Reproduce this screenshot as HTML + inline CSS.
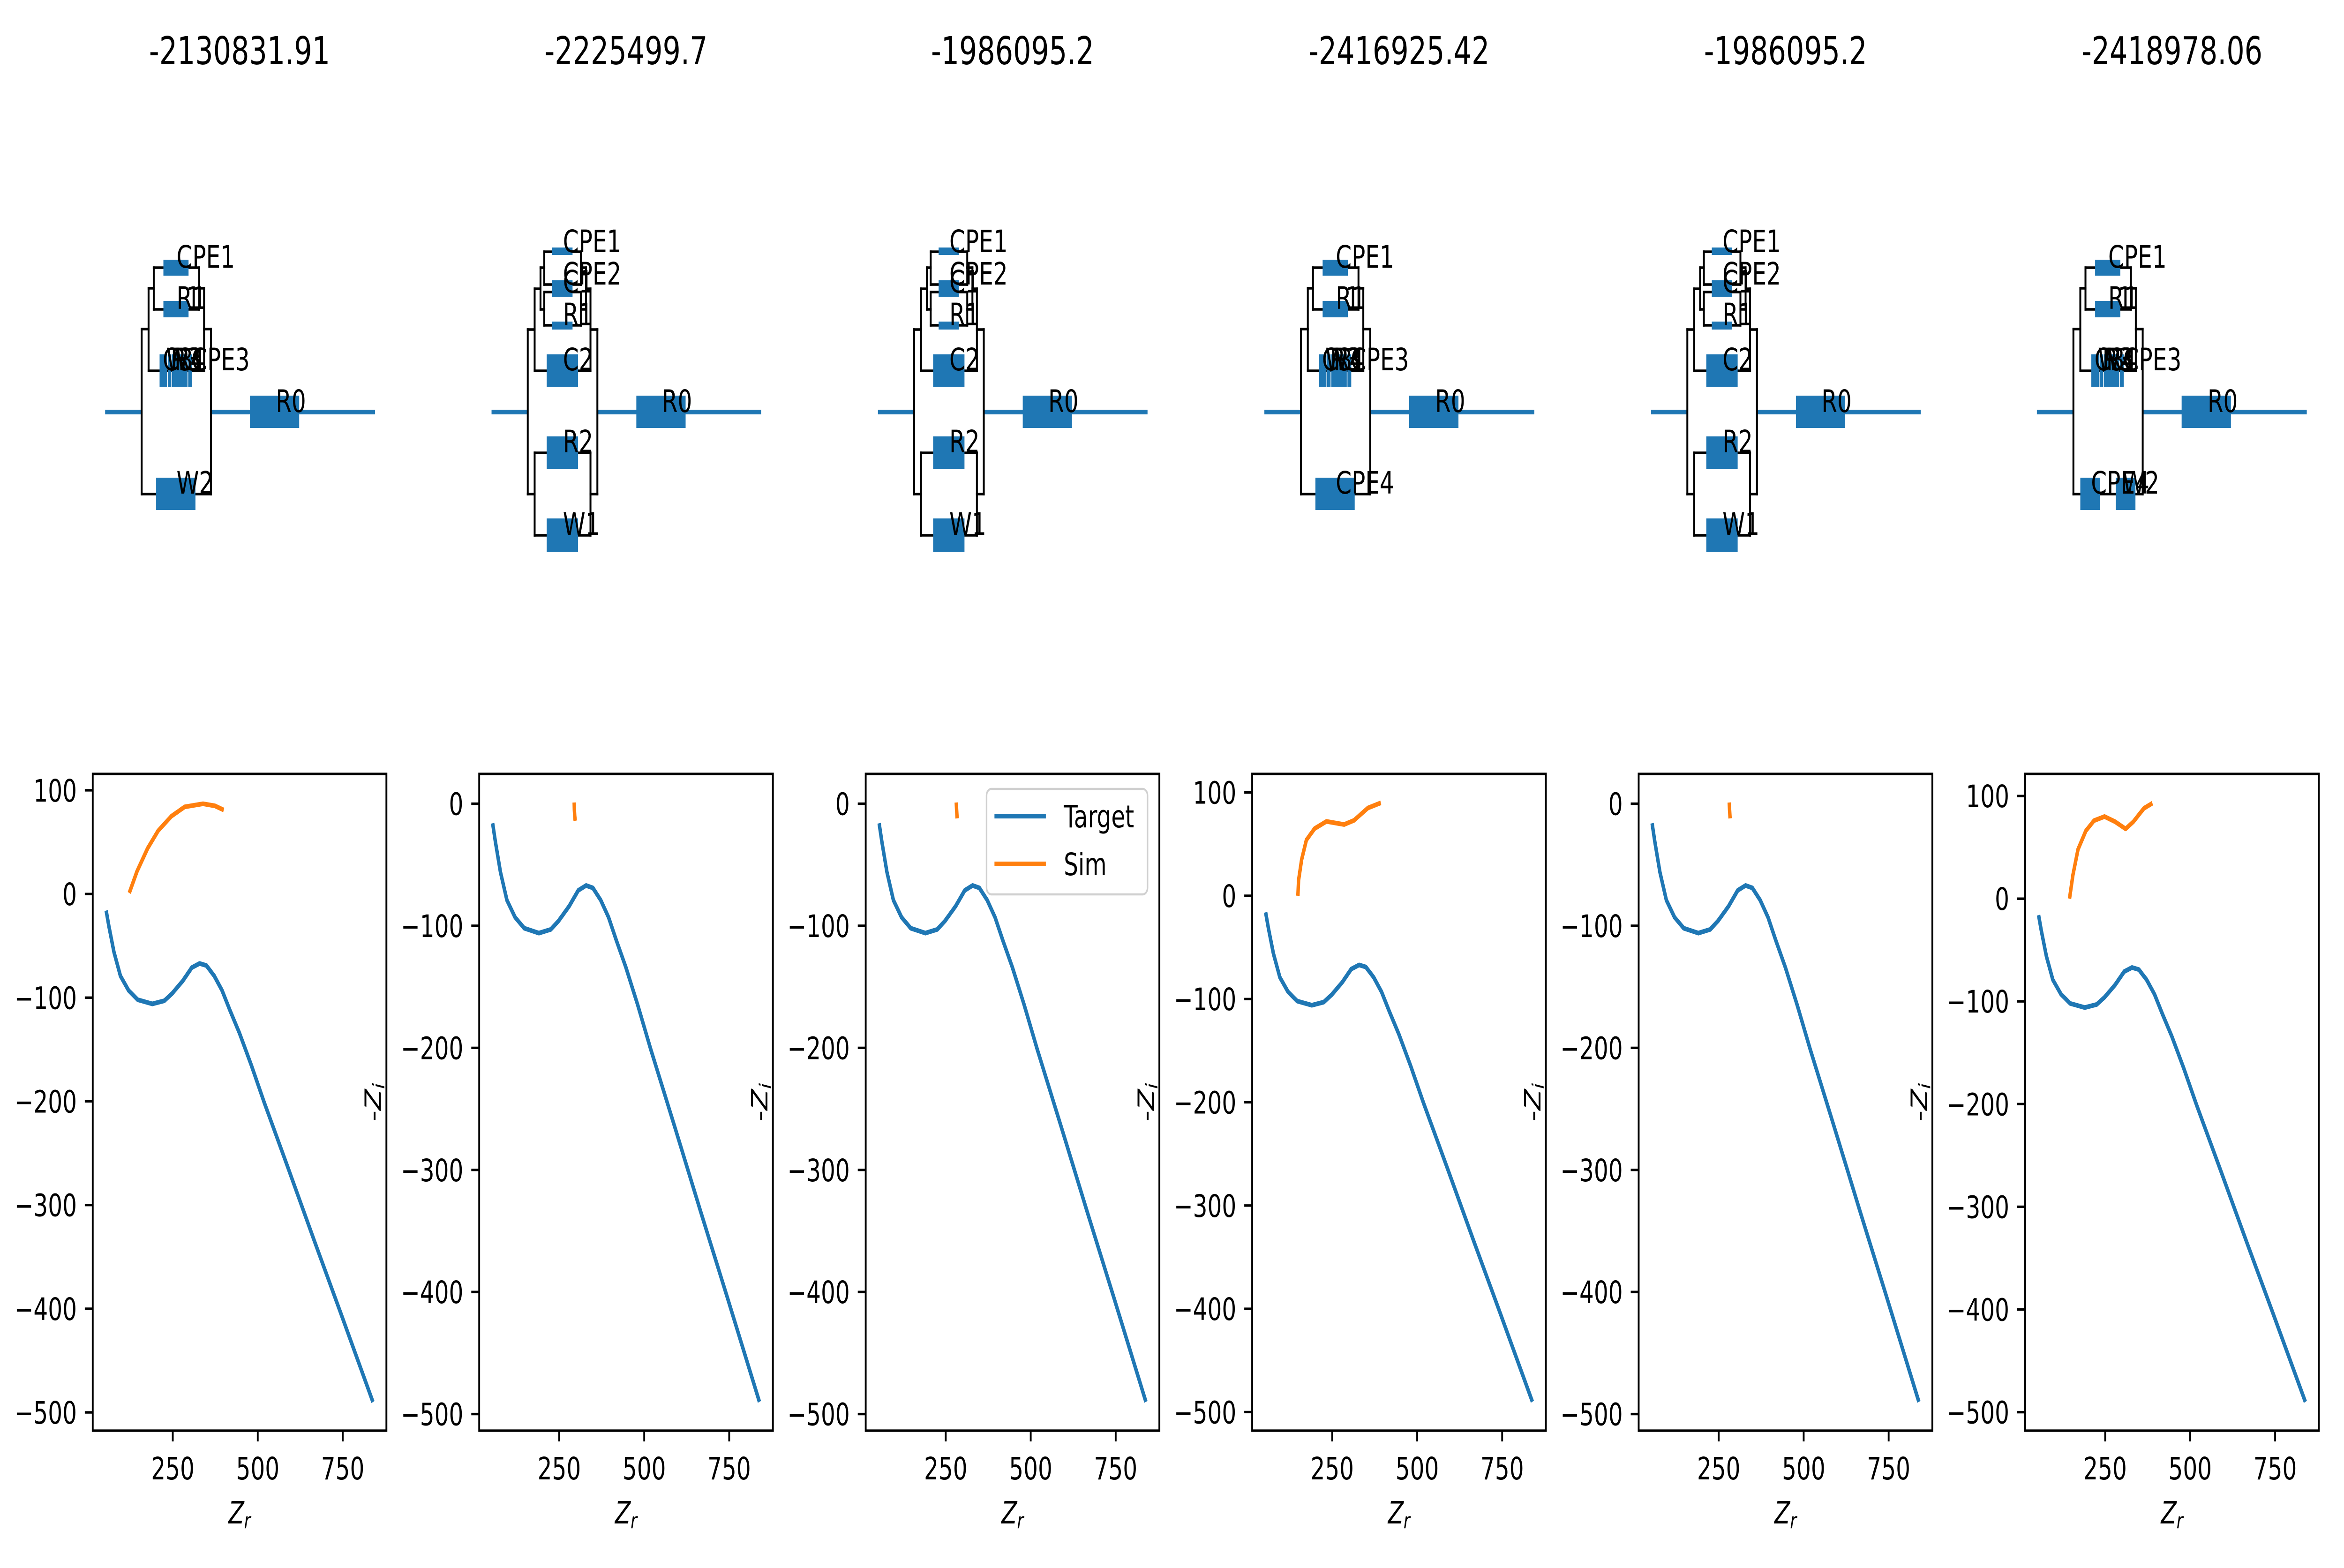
<!DOCTYPE html>
<html><head><meta charset="utf-8"><style>
html,body{margin:0;padding:0;background:#fff;width:100%;height:100%;overflow:hidden;}
svg{display:block;width:100vw;height:100vh;font-family:"DejaVu Sans","Liberation Sans",sans-serif;}
</style></head>
<body>
<svg id="fig" xmlns="http://www.w3.org/2000/svg" viewBox="0 0 6800 3345" preserveAspectRatio="none">
<rect x="0" y="0" width="6800" height="3345" fill="#fff"/>
</svg>
<script>
// ---- chart data ----
const targetZr = [54,62,77,96,120,147,190,225,248,279,306,329,349,372,395,418,446,481,519,589,667,744,839];
const targetZi = [-16,-31,-56,-79,-93,-102,-106,-103,-96,-84,-71,-67,-69,-79,-93,-112,-134,-165,-201,-264,-335,-404,-490];
const sim1Zr = [122,145,176,207,246,285,339,374,400];
const sim1Zi = [1,22,44,61,75,84,87,85,81];
const sim2Zr = [294,294.5,295.5,297];
const sim2Zi = [1,-5,-10,-14];
const sim3Zr = [281,282,283.5];
const sim3Zi = [1,-5,-12];
const sim4Zr = [149,151,160,174,198,233,285,314,355,393];
const sim4Zi = [0,15,35,54,65,72,69,73,85,90];
const sim5Zr = [281,282,283.5];
const sim5Zi = [1,-5,-12];
const sim6Zr = [145,155,170,193,217,248,279,310,333,364,389];
const sim6Zi = [0,23,48,66,76,80,75,68,75,88,93];
const panelTitles = ["-2130831.91","-2225499.7","-1986095.2","-2416925.42","-1986095.2","-2418978.06"];
const xTicks = [250,500,750];
const yTicksA = [100,0,-100,-200,-300,-400,-500];
const yTicksB = [0,-100,-200,-300,-400,-500];

const NS = "http://www.w3.org/2000/svg";
const svg = document.getElementById("fig");
const BLUE = "#1f77b4", ORANGE = "#ff7f0e";
const X0 = 14.5, X1 = 878.6;
const TOP = 1651, H = 1401, W = 852;

function mk(tag, attrs, parent){
  const el = document.createElementNS(NS, tag);
  for (const k in attrs) el.setAttribute(k, attrs[k]);
  (parent || svg).appendChild(el);
  return el;
}

const panels = [
  {zr: sim1Zr, zi: sim1Zi, yMax: 115.8, yMin: -517.6, ticks: yTicksA, ylabel: false},
  {zr: sim2Zr, zi: sim2Zi, yMax: 24.4, yMin: -513.6, ticks: yTicksB, ylabel: true},
  {zr: sim3Zr, zi: sim3Zi, yMax: 24.4, yMin: -513.6, ticks: yTicksB, ylabel: true},
  {zr: sim4Zr, zi: sim4Zi, yMax: 118, yMin: -518, ticks: yTicksA, ylabel: true},
  {zr: sim5Zr, zi: sim5Zi, yMax: 24.4, yMin: -513.6, ticks: yTicksB, ylabel: true},
  {zr: sim6Zr, zi: sim6Zi, yMax: 121.5, yMin: -518, ticks: yTicksA, ylabel: true}
];

panels.forEach((p, k) => {
  const left = 269 + 1121.2 * k;
  const sx = v => left + (v - X0) / (X1 - X0) * W;
  const sy = v => TOP + (p.yMax - v) / (p.yMax - p.yMin) * H;
  const g = mk("g", {});
  
  

  const t = mk("text", {x: left + W / 2, y: 137, "text-anchor": "middle", "font-size": 82, fill: "#000"});
  
  
  t.textContent = panelTitles[k];

  const cp = mk("clipPath", {id: "clip" + k}, g);
  mk("rect", {x: left, y: TOP, width: W, height: H}, cp);

  const tgt = mk("polyline", {points: targetZr.map((v, i) => sx(v) + "," + sy(targetZi[i])).join(" "),
    fill: "none", stroke: BLUE, "stroke-width": 10, "stroke-linejoin": "round", "clip-path": "url(#clip" + k + ")"}, g);
  
  

  const sim = mk("polyline", {points: p.zr.map((v, i) => sx(v) + "," + sy(p.zi[i])).join(" "),
    fill: "none", stroke: ORANGE, "stroke-width": 10, "stroke-linejoin": "round", "clip-path": "url(#clip" + k + ")"}, g);
  
  

  const frame = mk("rect", {x: left, y: TOP, width: W, height: H, fill: "none", stroke: "#000", "stroke-width": 5.3}, g);
  
  

  p.ticks.forEach(v => {
    const y = sy(v);
    const tk = mk("line", {x1: left - 23, x2: left, y1: y, y2: y, stroke: "#000", "stroke-width": 5.3}, g);
    
    
    const tl = mk("text", {x: left - 46, y: y + 24, "text-anchor": "end", "font-size": 66, fill: "#000"}, g);
    
    
    tl.textContent = (v < 0 ? "\u2212" + Math.abs(v) : String(v));
  });
  xTicks.forEach(v => {
    const x = sx(v);
    const tk = mk("line", {x1: x, x2: x, y1: TOP + H, y2: TOP + H + 23, stroke: "#000", "stroke-width": 5.3}, g);
    
    
    const tl = mk("text", {x: x, y: 3156, "text-anchor": "middle", "font-size": 66, fill: "#000"}, g);
    
    
    tl.textContent = String(v);
  });

  const xl = mk("text", {x: left + W / 2, y: 3250, "text-anchor": "middle", "font-size": 66, fill: "#000"}, g);
  
  
  const z1 = mk("tspan", {"font-style": "italic"}, xl); z1.textContent = "Z";
  const z2 = mk("tspan", {"font-style": "italic", "font-size": 46, dy: 10}, xl); z2.textContent = "r";

  if (p.ylabel) {
    const cx = left - 285, cy = TOP + H / 2;
    const yl = mk("text", {x: cx, y: cy, "text-anchor": "middle", "font-size": 66, fill: "#000",
      transform: "rotate(-90 " + cx + " " + cy + ")"}, g);
    
    
    const a = mk("tspan", {}, yl); a.textContent = "-";
    const b = mk("tspan", {"font-style": "italic"}, yl); b.textContent = "Z";
    const c = mk("tspan", {"font-style": "italic", "font-size": 46, dy: 10}, yl); c.textContent = "i";
  }

  if (k === 2) {
    const lg = mk("g", {});
    
    
    mk("rect", {x: 2862, y: 1683, width: 467, height: 225, rx: 14, fill: "#fff", "fill-opacity": 0.8, stroke: "#d0d0d0", "stroke-width": 4.5}, lg);
    const l1 = mk("line", {x1: 2885, x2: 3034, y1: 1741, y2: 1741, stroke: BLUE, "stroke-width": 10}, lg);
    
    
    const t1 = mk("text", {x: 3086, y: 1765, "font-size": 66, fill: "#000"}, lg); t1.textContent = "Target";
    const l2 = mk("line", {x1: 2885, x2: 3034, y1: 1843, y2: 1843, stroke: ORANGE, "stroke-width": 10}, lg);
    
    
    const t2 = mk("text", {x: 3086, y: 1867, "font-size": 66, fill: "#000"}, lg); t2.textContent = "Sim";
  }
});

// ---- circuit diagrams ----
function wire(g, x1, y1, x2, y2) {
  const l = mk("line", {x1: x1, y1: y1, x2: x2, y2: y2, stroke: "#000", "stroke-width": 5.5, "stroke-linecap": "square"}, g);
  
  
}
function elem(g, x1, x2, y1, y2) {
  const r = mk("rect", {x: x1, y: y1, width: x2 - x1, height: y2 - y1, fill: BLUE}, g);
  
  
}
function label(g, x, y, s) {
  const t = mk("text", {x: x, y: y, "font-size": 66, fill: "#000"}, g);
  
  
  t.textContent = s;
}
function mainLine(g, x1, x2, y) {
  const l = mk("line", {x1: x1, y1: y, x2: x2, y2: y, stroke: BLUE, "stroke-width": 10}, g);
  
  
}

function circuitA(dx, idx, bottom) {
  const g = mk("g", {transform: "translate(" + dx + ",0)"});
  
  
  mainLine(g, 305, 411, 879);
  mainLine(g, 612, 1088, 879);
  wire(g, 411, 702, 411, 1054); wire(g, 612, 702, 612, 1054);
  wire(g, 411, 702, 431, 702); wire(g, 592, 702, 612, 702); wire(g, 411, 1054, 612, 1054);
  wire(g, 431, 615, 431, 791); wire(g, 592, 615, 592, 791);
  wire(g, 431, 615, 446, 615); wire(g, 578, 615, 592, 615); wire(g, 431, 791, 592, 791);
  wire(g, 446, 571, 446, 660); wire(g, 578, 571, 578, 660);
  wire(g, 446, 571, 578, 571); wire(g, 446, 660, 578, 660);
  elem(g, 725, 868, 844, 913);
  elem(g, 474, 547, 554, 588);
  elem(g, 474, 547, 642, 677);
  elem(g, 463, 485, 756, 825); elem(g, 487, 497, 756, 825); elem(g, 499, 544, 756, 825); elem(g, 546, 557, 756, 825);
  bottom.forEach(b => elem(g, b[0], b[1], 1019, 1088));
  label(g, 512, 571, "CPE1");
  label(g, 512, 659, "R1");
  label(g, 540, 659, "1");
  label(g, 472, 790, "C3");
  label(g, 482, 790, "W3");
  label(g, 495, 790, "R3");
  label(g, 506, 790, "R4");
  label(g, 555, 790, "CPE3");
  label(g, 800, 879, "R0");
  bottom.forEach(b => label(g, b[3], 1053, b[2]));
}

function circuitB(dx, idx) {
  const g = mk("g", {transform: "translate(" + dx + ",0)"});
  
  
  mainLine(g, 1426, 1531, 879);
  mainLine(g, 1733, 2208, 879);
  wire(g, 1531, 703, 1531, 1054); wire(g, 1733, 703, 1733, 1054);
  wire(g, 1531, 703, 1551, 703); wire(g, 1713, 703, 1733, 703);
  wire(g, 1531, 1054, 1551, 1054); wire(g, 1713, 1054, 1733, 1054);
  wire(g, 1551, 616, 1551, 791); wire(g, 1713, 616, 1713, 791);
  wire(g, 1551, 616, 1568, 616); wire(g, 1700, 616, 1713, 616); wire(g, 1551, 791, 1713, 791);
  wire(g, 1551, 966, 1551, 1142); wire(g, 1713, 966, 1713, 1142);
  wire(g, 1551, 966, 1713, 966); wire(g, 1551, 1142, 1713, 1142);
  wire(g, 1568, 571, 1568, 660); wire(g, 1700, 571, 1700, 660);
  wire(g, 1568, 571, 1579, 571); wire(g, 1685, 571, 1700, 571);
  wire(g, 1568, 660, 1579, 660); wire(g, 1685, 660, 1700, 660);
  wire(g, 1579, 537, 1579, 607); wire(g, 1685, 537, 1685, 607);
  wire(g, 1579, 537, 1685, 537); wire(g, 1579, 607, 1685, 607);
  wire(g, 1579, 623, 1579, 694); wire(g, 1685, 623, 1685, 694);
  wire(g, 1579, 623, 1685, 623); wire(g, 1579, 694, 1685, 694);
  elem(g, 1846, 1989, 844, 913);
  elem(g, 1602, 1661, 528, 544);
  elem(g, 1602, 1661, 598, 633);
  elem(g, 1602, 1661, 686, 703);
  elem(g, 1586, 1677, 756, 825);
  elem(g, 1586, 1677, 931, 1000);
  elem(g, 1586, 1677, 1106, 1177);
  label(g, 1633, 538, "CPE1");
  label(g, 1633, 607, "CPE2");
  label(g, 1633, 624, "C1");
  label(g, 1633, 694, "R1");
  label(g, 1633, 790, "C2");
  label(g, 1633, 965, "R2");
  label(g, 1633, 1141, "W1");
  label(g, 1920, 879, "R0");
}

circuitA(0, 1, [[453, 567, "W2", 512]]);
circuitB(0, 2);
circuitB(1121, 3);
circuitA(3363, 4, [[453, 567, "CPE4", 512]]);
circuitB(3364, 5);
circuitA(5604, 6, [[431, 488, "CPE4", 462], [534, 591, "W2", 553]]);
</script>
</body></html>
